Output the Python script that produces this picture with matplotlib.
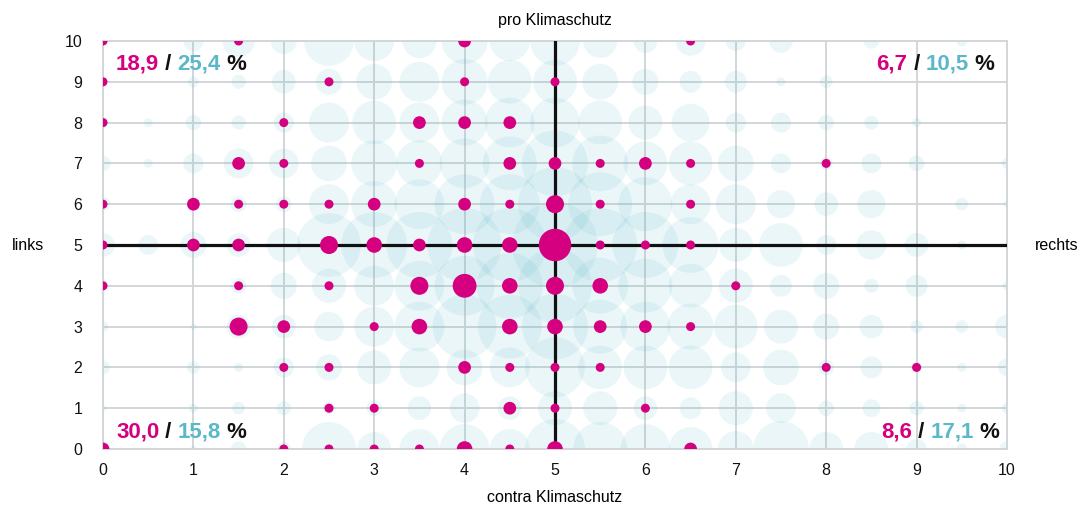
import numpy as np
import matplotlib
matplotlib.use("Agg")
import matplotlib.pyplot as plt

plt.rcParams['font.family'] = ['Liberation Sans Narrow', 'Liberation Sans', 'DejaVu Sans']

# ---- data -------------------------------------------------------------
x_positions = [i * 0.5 for i in range(21)]          # 0 .. 10 step 0.5
y_positions = list(range(10, -1, -1))                # rows top -> bottom

# background group (cyan bubbles), rows y=10 .. y=0, columns x=0..10 step .5
bg_values = [
    [0, 0, 10, 26, 17, 62, 40, 29, 53, 40, 62, 29, 14, 22, 10, 14, 0, 6, 0, 3, 0],
    [0, 0, 3, 5, 14, 17, 32, 40, 53, 48, 48, 32, 17, 12, 12, 2, 4, 0, 0, 0, 0],
    [3, 2, 6, 5, 10, 40, 48, 40, 53, 62, 62, 48, 29, 36, 10, 10, 6, 5, 2, 0, 0],
    [6, 2, 10, 22, 22, 32, 53, 53, 62, 73, 109, 78, 48, 48, 32, 10, 4, 10, 6, 0, 3],
    [5, 0, 3, 6, 6, 40, 53, 62, 90, 90, 137, 102, 73, 40, 40, 20, 14, 20, 0, 4, 1],
    [14, 10, 17, 14, 29, 102, 109, 109, 137, 137, 185, 137, 109, 78, 29, 48, 10, 22, 14, 2, 0],
    [3, 0, 0, 6, 17, 29, 40, 62, 90, 109, 137, 78, 73, 48, 29, 12, 17, 5, 12, 0, 2],
    [3, 0, 1, 14, 14, 22, 40, 62, 102, 102, 109, 73, 62, 53, 48, 29, 17, 14, 4, 4, 14],
    [5, 0, 4, 2, 10, 17, 29, 40, 32, 40, 90, 48, 48, 48, 22, 32, 6, 12, 3, 2, 8],
    [1, 0, 2, 4, 5, 4, 6, 14, 22, 14, 29, 29, 14, 12, 29, 22, 6, 8, 5, 2, 3],
    [6, 0, 1, 6, 5, 73, 29, 40, 62, 40, 90, 73, 62, 48, 32, 78, 29, 29, 10, 3, 6],
]

# highlighted group (magenta dots): x, y, value
mg_x = [0, 1.5, 4, 6.5,
        0, 2.5, 4, 5,
        0, 2, 3.5, 4, 4.5,
        1.5, 2, 3.5, 4.5, 5, 5.5, 6, 6.5, 8,
        0, 1, 1.5, 2, 2.5, 3, 4, 4.5, 5, 5.5, 6.5,
        0, 1, 1.5, 2.5, 3, 3.5, 4, 4.5, 5, 5.5, 6, 6.5,
        0, 1.5, 2.5, 3.5, 4, 4.5, 5, 5.5, 7,
        1.5, 2, 3, 3.5, 4.5, 5, 5.5, 6, 6.5,
        2, 2.5, 4, 4.5, 5, 5.5, 8, 9,
        2.5, 3, 4.5, 5, 6,
        0, 2, 2.5, 3, 3.5, 4, 4.5, 5, 6.5]
mg_y = [10] * 4 + [9] * 4 + [8] * 5 + [7] * 9 + [6] * 11 + [5] * 12 + \
       [4] * 9 + [3] * 9 + [2] * 8 + [1] * 5 + [0] * 9
mg_v = [1, 1, 2, 1,
        1, 1, 1, 1,
        1, 1, 2, 2, 2,
        2, 1, 1, 2, 2, 1, 2, 1, 1,
        1, 2, 1, 1, 1, 2, 2, 1, 4, 1, 1,
        1, 2, 2, 4, 3, 2, 3, 3, 13, 1, 1, 1,
        1, 1, 1, 4, 7, 3, 4, 3, 1,
        4, 2, 1, 3, 3, 3, 2, 2, 1,
        1, 1, 2, 1, 1, 1, 1, 1,
        1, 1, 2, 1, 1,
        2, 1, 1, 1, 1, 3, 1, 3, 2]

tick_labels = [str(i) for i in range(11)]
quadrants = {
    'tl': ('18,9', '25,4'),
    'tr': ('6,7', '10,5'),
    'bl': ('30,0', '15,8'),
    'br': ('8,6', '17,1'),
}
MAGENTA = '#d5007f'
CYAN = '#5bb8c9'
GRID = '#d2d6d8'

# ---- figure -----------------------------------------------------------
fig = plt.figure(figsize=(10.88, 5.12), dpi=100)
ax = fig.add_axes([103 / 1088, 1 - 449 / 512, 904 / 1088, 408 / 512])
ax.set_xlim(0, 10)
ax.set_ylim(0, 10)

bx, by, bv = [], [], []
for yi, row in zip(y_positions, bg_values):
    for xi, v in zip(x_positions, row):
        if v > 0:
            bx.append(xi); by.append(yi); bv.append(v)
ax.scatter(bx, by, s=np.array(bv) * 20.7, color='#4fb6c6', alpha=0.11,
           linewidths=0, zorder=2)

ax.axhline(5, color='#111111', lw=2.3, zorder=3)
ax.axvline(5, color='#111111', lw=2.3, zorder=3)

ax.scatter(mg_x, mg_y, s=np.array(mg_v) * 42, color=MAGENTA, linewidths=0,
           zorder=4)

ax.set_xticks(range(11))
ax.set_yticks(range(11))
ax.set_xticklabels(tick_labels)
ax.set_yticklabels(tick_labels)
ax.grid(True, color=GRID, lw=1.4, zorder=1)
ax.set_axisbelow(True)
ax.tick_params(length=0, labelsize=11.5, colors='#111111')
ax.tick_params(axis='x', pad=10)
ax.tick_params(axis='y', pad=15)
for sp in ax.spines.values():
    sp.set_color(GRID)
    sp.set_linewidth(1.4)

fig.text(555 / 1088, 1 - 20 / 512, 'pro Klimaschutz', ha='center', va='center', fontsize=11.5)
fig.text(555 / 1088, 1 - 497 / 512, 'contra Klimaschutz', ha='center', va='center', fontsize=11.5)
fig.text(28 / 1088, 1 - 245 / 512, 'links', ha='center', va='center', fontsize=11.5)
fig.text(1057 / 1088, 1 - 245 / 512, 'rechts', ha='center', va='center', fontsize=11.5)


def multicolor(px, py, a, b, align):
    parts = [(a, MAGENTA), (' / ', '#111111'), (b, CYAN), (' %', '#111111')]
    kw = dict(fontsize=16, fontweight='bold', va='center')
    if align == 'left':
        prev = fig.text(px / 1088, 1 - py / 512, parts[0][0], color=parts[0][1], ha='left', **kw)
        for txt, col in parts[1:]:
            prev = fig.text(0, 0, txt, color=col, ha='left', **kw) if False else \
                ax.annotate(txt, xy=(1, 0.5), xycoords=prev, color=col, ha='left',
                            annotation_clip=False, **kw)
    else:
        prev = fig.text(px / 1088, 1 - py / 512, parts[-1][0], color=parts[-1][1], ha='right', **kw)
        for txt, col in reversed(parts[:-1]):
            prev = ax.annotate(txt, xy=(0, 0.5), xycoords=prev, color=col, ha='right',
                               annotation_clip=False, **kw)


multicolor(116, 64, *quadrants['tl'], 'left')
multicolor(995, 64, *quadrants['tr'], 'right')
multicolor(116, 432, *quadrants['bl'], 'left')
multicolor(1000, 432, *quadrants['br'], 'right')

fig.savefig('out.png', dpi=100)
